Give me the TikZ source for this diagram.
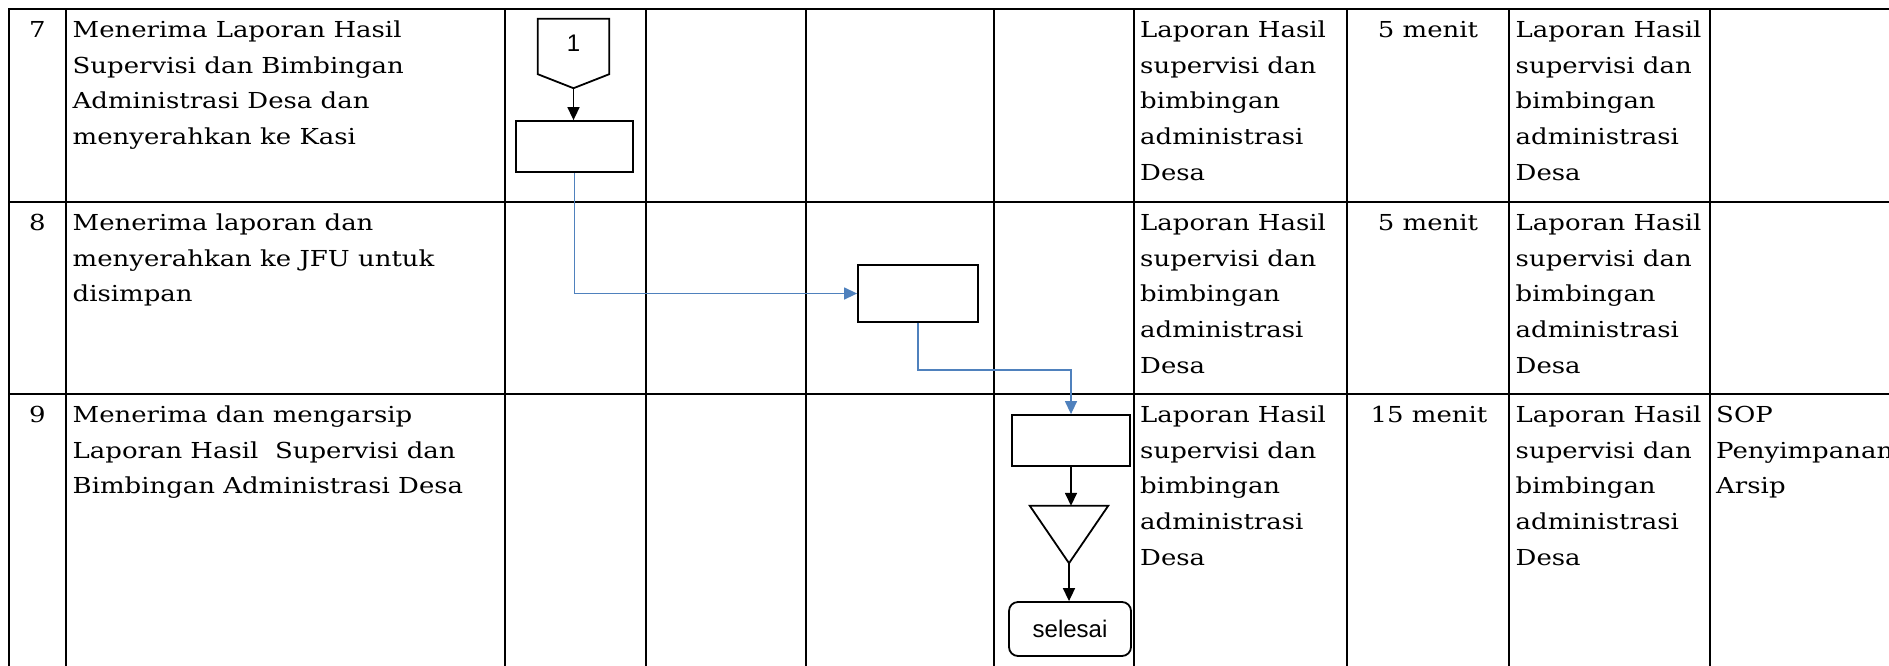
\documentclass[tikz,border=0pt]{standalone}
\usepackage{fontspec}
\setmainfont{DejaVu Serif}[FakeStretch=1.18]
\newfontfamily\sansf{Liberation Sans}
\usetikzlibrary{arrows.meta,calc}
\definecolor{conblue}{RGB}{79,129,189}
\newcommand{\txtfont}{\fontsize{22pt}{35.8pt}\selectfont}
\newcommand{\sfont}{\sansf\fontsize{24pt}{28pt}\selectfont}
\begin{document}
\begin{tikzpicture}[x=1pt,y=-1pt,
  gridline/.style={line width=2.9pt, line cap=rect},
  txt/.style={anchor=north west, inner sep=0pt, align=left, font=\txtfont},
  ctr/.style={anchor=north, inner sep=0pt, align=center, font=\txtfont},
  procbox/.style={draw, line width=1.8pt, rectangle, inner sep=0pt},
  shapeline/.style={line width=1.8pt, line join=miter},
  blk/.style={line width=1.6pt, -{Triangle[length=13pt,width=12pt]}},
  blu/.style={conblue, line width=1.4pt, -{Triangle[length=13pt,width=12pt]}}]
\useasboundingbox (0,0) rectangle (1889,665);
\clip (0,0) rectangle (1889,665);
% table grid
\foreach \x in {9,66,505,646,806,994,1134,1347,1509,1710}
  \draw[gridline] (\x,9) -- (\x,690);
\foreach \y in {9,202,394}
  \draw[gridline] (9,\y) -- (1910,\y);
% row 7
\node[ctr] (n7) at (37.5,12) {\strut 7};
\node[txt] (d7) at (72.5,12) {\strut Menerima Laporan Hasil\\Supervisi dan Bimbingan\\Administrasi Desa dan\\menyerahkan ke Kasi};
\node[txt] (i7) at (1140,12) {\strut Laporan Hasil\\supervisi dan\\bimbingan\\administrasi\\Desa};
\node[ctr] (t7) at (1428,12) {\strut 5 menit};
\node[txt] (o7) at (1515.5,12) {\strut Laporan Hasil\\supervisi dan\\bimbingan\\administrasi\\Desa};
% row 8
\node[ctr] (n8) at (37.5,205) {\strut 8};
\node[txt] (d8) at (72.5,205) {\strut Menerima laporan dan\\menyerahkan ke JFU untuk\\disimpan};
\node[txt] (i8) at (1140,205) {\strut Laporan Hasil\\supervisi dan\\bimbingan\\administrasi\\Desa};
\node[ctr] (t8) at (1428,205) {\strut 5 menit};
\node[txt] (o8) at (1515.5,205) {\strut Laporan Hasil\\supervisi dan\\bimbingan\\administrasi\\Desa};
% row 9
\node[ctr] (n9) at (37.5,397) {\strut 9};
\node[txt] (d9) at (72.5,397) {\strut Menerima dan mengarsip\\Laporan Hasil\ \ Supervisi dan\\Bimbingan Administrasi Desa};
\node[txt] (i9) at (1140,397) {\strut Laporan Hasil\\supervisi dan\\bimbingan\\administrasi\\Desa};
\node[ctr] (t9) at (1429,397) {\strut 15 menit};
\node[txt] (o9) at (1515.5,397) {\strut Laporan Hasil\\supervisi dan\\bimbingan\\administrasi\\Desa};
\node[txt] (k9) at (1716,397) {\strut SOP\\Penyimpanan\\Arsip};
% flow shapes
\node[font=\sfont, minimum width=71pt, minimum height=55pt, inner sep=0pt, text depth=6pt] (p1) at (573.5,46.5) {1};
\draw[shapeline] (p1.north west) -- (p1.north east) -- (p1.south east) -- ($(p1.south)+(0,14)$) -- (p1.south west) -- cycle;
\coordinate (p1tip) at ($(p1.south)+(0,14)$);
\node[procbox, minimum width=117pt, minimum height=51pt] (b1) at (574.5,146.5) {};
\node[procbox, minimum width=120pt, minimum height=57pt] (b2) at (918,293.5) {};
\node[procbox, minimum width=118pt, minimum height=51pt] (b3) at (1071,440.5) {};
\node[minimum width=78pt, minimum height=57pt, inner sep=0pt] (tri) at (1069,534.5) {};
\draw[shapeline] (tri.north west) -- (tri.north east) -- (tri.south) -- cycle;
\node[procbox, rounded corners=9pt, minimum width=122pt, minimum height=54pt, font=\sfont] (sel) at (1070,629) {selesai};
% connectors
\draw[blk] (p1tip) -- (p1tip |- b1.north);
\draw[blu] (b1.south) |- (b2.west);
\draw[blu] (b2.south) -- ++(0,47) -| (b3.north);
\draw[blk] (b3.south) -- (b3.south |- tri.north);
\draw[blk] (tri.south) -- (tri.south |- sel.north);
\end{tikzpicture}
\end{document}
